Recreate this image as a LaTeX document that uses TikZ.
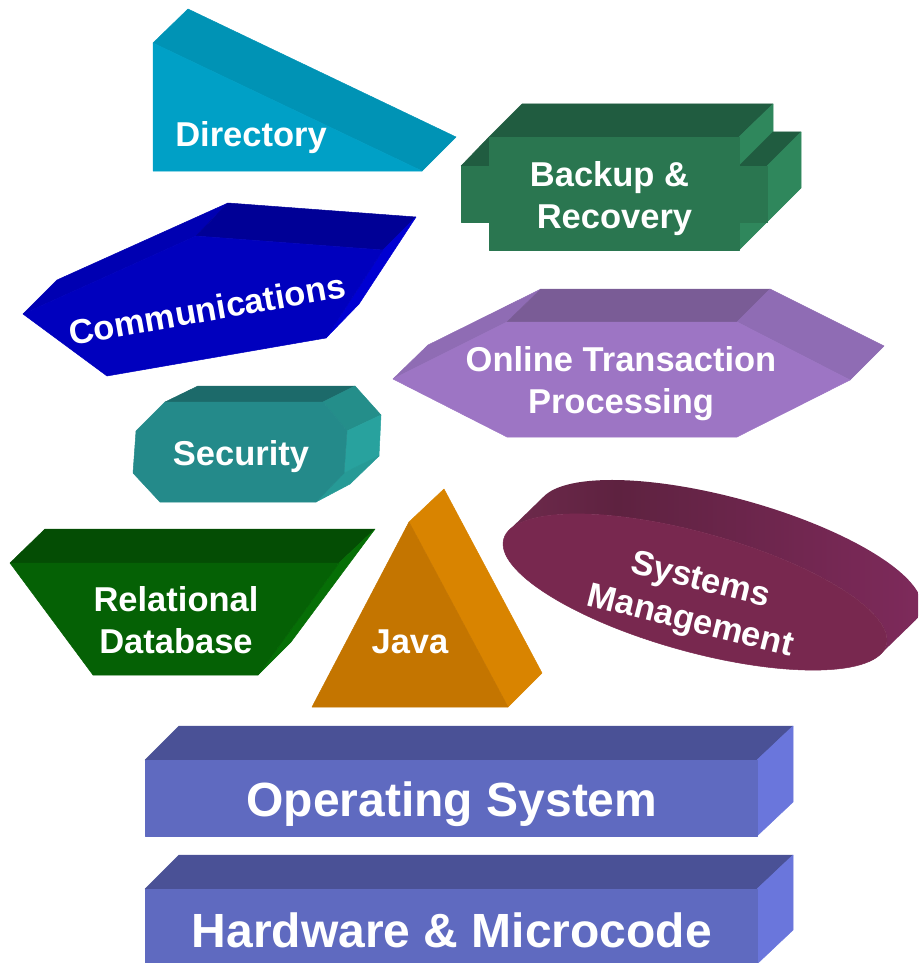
\documentclass[tikz,border=0pt]{standalone}
\usepackage{fontspec}
\setmainfont{Liberation Sans}
\definecolor{dirF}{HTML}{00A0C6}\definecolor{dirT}{HTML}{0093B5}
\definecolor{comF}{HTML}{0000BE}\definecolor{comT}{HTML}{000096}\definecolor{comL}{HTML}{0000B2}\definecolor{comR}{HTML}{0000D2}
\definecolor{bakF}{HTML}{2A7650}\definecolor{bakT}{HTML}{205C40}\definecolor{bakR}{HTML}{2F875C}
\definecolor{oltF}{HTML}{9D75C4}\definecolor{oltT}{HTML}{7A5C96}\definecolor{oltS}{HTML}{8F6CB4}
\definecolor{secF}{HTML}{248A8A}\definecolor{secT}{HTML}{1C6A6A}\definecolor{secU}{HTML}{248E8A}\definecolor{secR}{HTML}{28A29E}\definecolor{secL}{HTML}{269A96}
\definecolor{relF}{HTML}{056105}\definecolor{relT}{HTML}{044D04}\definecolor{relR}{HTML}{066F06}
\definecolor{javF}{HTML}{C47500}\definecolor{javR}{HTML}{D98400}
\definecolor{sysF}{HTML}{78284F}\definecolor{sysA}{HTML}{5E2240}\definecolor{sysB}{HTML}{7E2A5B}\definecolor{sysC}{HTML}{6E2A4C}
\definecolor{osF}{HTML}{5F6AC0}\definecolor{osT}{HTML}{4A5196}\definecolor{osR}{HTML}{6A76DC}
\pgfdeclarehorizontalshading{sysshade}{100bp}{color(0bp)=(sysC);color(25bp)=(sysC);color(38bp)=(sysA);color(75bp)=(sysB);color(100bp)=(sysB)}
\tikzset{
  face/.style={fill=#1,draw=#1,line width=.5pt,line join=round},
  lbl/.style={text=white,align=center,font=\bfseries\fontsize{34.5}{42}\selectfont,inner sep=0pt},
  biglbl/.style={text=white,align=center,font=\bfseries\fontsize{48}{56}\selectfont,inner sep=0pt}
}
\begin{document}
\begin{tikzpicture}[x=1pt,y=-1pt]
\useasboundingbox (0,0) rectangle (918,963);
\clip (0,0) rectangle (918,963);
% Directory
\path[face=dirT] (153,43) -- (188,9) -- (456,137) -- (422,171) -- cycle;
\path[face=dirF] (153,43) -- (153,171) -- (422,171) -- cycle;
\node[lbl] (directory) at (251,138) {Directory};
% Communications
\path[face=comL] (23,314) -- (57,280) -- (228,203) -- (196,236) -- cycle;
\path[face=comT] (196,236) -- (228,203) -- (416,217) -- (383,250) -- cycle;
\path[face=comR] (383,250) -- (416,217) -- (359,304) -- (326,338) -- cycle;
\path[face=comF] (23,314) -- (107,376) -- (326,338) -- (383,250) -- (196,236) -- cycle;
\node[lbl,rotate=10] (comm) at (207,309) {Communications};
% Backup
\path[face=bakT] (489,137) -- (522,104) -- (773,104) -- (739,137) -- cycle;
\path[face=bakR] (739,137) -- (773,104) -- (773,132) -- (739,166) -- cycle;
\path[face=bakT] (739,166) -- (773,132) -- (801,132) -- (767,166) -- cycle;
\path[face=bakR] (767,166) -- (801,132) -- (801,188) -- (767,222) -- cycle;
\path[face=bakR] (739,222) -- (767,222) -- (739,250) -- cycle;
\path[face=bakT] (461,166) -- (489,137) -- (489,166) -- cycle;
\path[face=bakF] (489,137) -- (739,137) -- (739,166) -- (767,166) -- (767,222) -- (739,222) -- (739,250) -- (489,250) -- (489,222) -- (461,222) -- (461,166) -- (489,166) -- cycle;
\node[lbl] (backup) at (612,199) {Backup \&\hspace*{5pt}\\\hspace*{5pt}Recovery};
% OLTP
\path[face=oltS] (393,379) -- (428,345) -- (541,289) -- (507,322) -- cycle;
\path[face=oltT] (507,322) -- (541,289) -- (770,289) -- (737,322) -- cycle;
\path[face=oltS] (737,322) -- (770,289) -- (884,346) -- (850,380) -- cycle;
\path[face=oltF] (393,379) -- (507,322) -- (737,322) -- (850,380) -- (737,437) -- (507,437) -- cycle;
\node[lbl] (oltp) at (621,384) {Online Transaction\\Processing};
% Security
\path[face=secT] (165,402) -- (198,386) -- (355,386) -- (323,402) -- cycle;
\path[face=secU] (323,402) -- (355,386) -- (381,415) -- (347,431) -- cycle;
\path[face=secR] (347,431) -- (381,415) -- (379,456) -- (344,473) -- cycle;
\path[face=secL] (344,473) -- (379,456) -- (350,484) -- (316,502) -- cycle;
\path[face=secF] (133,473) -- (136,431) -- (165,402) -- (323,402) -- (347,431) -- (344,473) -- (316,502) -- (160,502) -- cycle;
\node[lbl] (security) at (241,457) {Security};
% Relational
\path[face=relT] (10,563) -- (45,529) -- (375,529) -- (339,563) -- cycle;
\path[face=relR] (339,563) -- (375,529) -- (291,642) -- (258,675) -- cycle;
\path[face=relF] (10,563) -- (93,675) -- (258,675) -- (339,563) -- cycle;
\node[lbl] (reldb) at (176,620) {Relational\\Database};
% Java
\path[face=javR] (409,522) -- (444,489) -- (542,673) -- (508,707) -- cycle;
\path[face=javF] (409,522) -- (508,707) -- (312,707) -- cycle;
\node[lbl] (java) at (410,642) {Java};
% Systems Management
\path[shading=sysshade]
  plot[domain=194.7:374.7,samples=80,smooth] ({730+192*cos(\x)},{558+48*cos(\x)+61.5*sin(\x)})
  -- plot[domain=374.7:194.7,samples=80,smooth] ({695+192*cos(\x)},{592+48*cos(\x)+61.5*sin(\x)}) -- cycle;
\path[face=sysF] (695,592) ellipse[x radius=198.5,y radius=59.5,rotate=-15.5];
\node[lbl,rotate=-14] (sysmgmt) at (695,602) {Systems\\Management};
% Operating System
\path[face=osT] (145,760) -- (179,726) -- (793,726) -- (757,760) -- cycle;
\path[face=osR] (757,760) -- (793,726) -- (793,802) -- (757,836) -- cycle;
\path[face=osF] (145,760) rectangle (757,836);
\node[biglbl] (os) at (452,804) {Operating System};
% Hardware
\path[face=osT] (145,889) -- (179,855) -- (793,855) -- (757,889) -- cycle;
\path[face=osR] (757,889) -- (793,855) -- (793,930) -- (757,964) -- cycle;
\path[face=osF] (145,889) rectangle (757,964);
\node[biglbl] (hw) at (452,930) {Hardware \& Microcode};
\end{tikzpicture}
\end{document}
